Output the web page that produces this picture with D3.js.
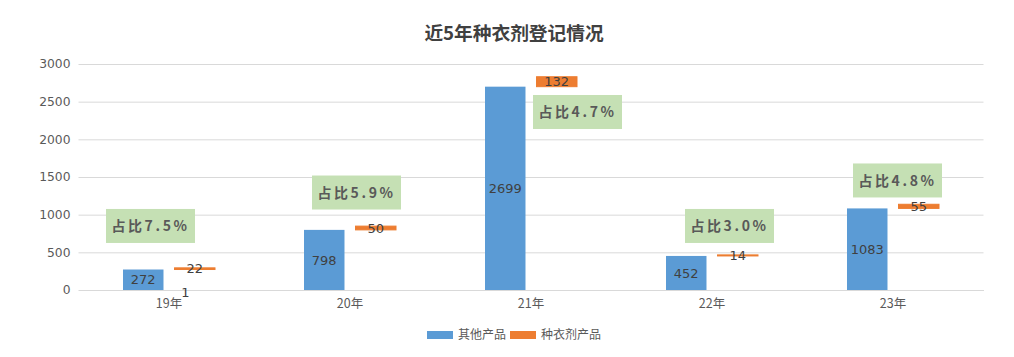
<!DOCTYPE html>
<html><head><meta charset="utf-8">
<script src="https://cdn.jsdelivr.net/npm/d3@7"></script>
<style>
html,body{margin:0;padding:0;background:#fff;}
svg{display:block;}
</style></head>
<body>
<svg id="chart" width="1014" height="357"></svg>
<script>
const categories = ['19年','20年','21年','22年','23年'];
const otherValues = [272, 798, 2699, 452, 1083];
const seedValues = [22, 50, 132, 14, 55];
const shareLabels = ['占比7.5%','占比5.9%','占比4.7%','占比3.0%','占比4.8%'];
const yTicks = [0, 500, 1000, 1500, 2000, 2500, 3000];
const seriesNames = ['其他产品', '种衣剂产品'];
const strayLabel = '1';
const title = '近5年种衣剂登记情况';

// layout for annotation boxes: [x offset px from category centre, value at box centre]
const noteAnchor = [[-18.5, 850], [6.5, 1294], [46.5, 2363], [17.5, 850], [4.5, 1454]];

const BLUE = '#5B9BD5', ORANGE = '#ED7D31', GREEN = '#C5E0B4';
const FONT = '"DejaVu Sans","Noto Sans CJK SC",sans-serif';
const CJK = '"Noto Sans CJK SC","DejaVu Sans",sans-serif';

const svg = d3.select('#chart');
const plotLeft = 78.5, plotRight = 983.5, plotTop = 64, plotBottom = 290;

const x = d3.scaleBand().domain(categories).range([plotLeft, plotRight]).paddingInner(0.4917).paddingOuter(0.24586);
const xs = d3.scaleBand().domain(seriesNames).range([0, x.bandwidth()]).paddingInner(0.214);
const y = d3.scaleLinear().domain([0, 3000]).range([plotBottom, plotTop]);

// title
svg.append('text').attr('x', 514).attr('y', 40).attr('text-anchor', 'middle')
  .attr('font-family', CJK).attr('font-weight', 'bold').attr('font-size', 18.7)
  .attr('fill', '#404040').text(title);

// grid
const yAxis = d3.axisLeft(y).tickValues(yTicks).tickFormat(d3.format('d'))
  .tickSize(-(plotRight - plotLeft)).tickPadding(8);
const ga = svg.append('g').attr('transform', `translate(${plotLeft},0)`).call(yAxis);
ga.select('.domain').remove();
ga.selectAll('.tick line').attr('stroke', '#D9D9D9').attr('stroke-width', 1);
ga.selectAll('.tick text').attr('font-family', FONT).attr('font-size', 12.3).attr('fill', '#595959').attr('x', -8);

// x axis
const xAxis = d3.axisBottom(x).tickSize(0).tickPadding(9);
const gx = svg.append('g').attr('transform', `translate(0,${plotBottom})`).call(xAxis);
gx.select('.domain').attr('stroke', '#D9D9D9');
gx.selectAll('.tick text').attr('font-family', CJK).attr('font-size', 12.5).attr('fill', '#595959');

const rows = categories.map((c, i) => ({c, i, other: otherValues[i], seed: seedValues[i]}));

// blue bars
svg.append('g').selectAll('rect').data(rows).join('rect')
  .attr('x', d => x(d.c) + xs(seriesNames[0]))
  .attr('width', xs.bandwidth())
  .attr('y', d => y(d.other))
  .attr('height', d => y(0) - y(d.other))
  .attr('fill', BLUE);

// orange floating bars
svg.append('g').selectAll('rect').data(rows).join('rect')
  .attr('x', d => x(d.c) + xs(seriesNames[1]))
  .attr('width', xs.bandwidth())
  .attr('y', d => y(d.other + d.seed))
  .attr('height', d => y(d.other) - y(d.other + d.seed))
  .attr('fill', ORANGE)
  .attr('stroke', ORANGE).attr('stroke-width', 1);

// data labels
svg.append('g').selectAll('text').data(rows).join('text')
  .attr('x', d => x(d.c) + xs(seriesNames[0]) + xs.bandwidth() / 2)
  .attr('y', d => (y(d.other) + y(0)) / 2)
  .attr('dy', '0.36em').attr('text-anchor', 'middle')
  .attr('font-family', FONT).attr('font-size', 13).attr('fill', '#404040')
  .text(d => d.other);

svg.append('g').selectAll('text').data(rows).join('text')
  .attr('x', d => x(d.c) + xs(seriesNames[1]) + xs.bandwidth() / 2)
  .attr('y', d => (y(d.other) + y(d.other + d.seed)) / 2)
  .attr('dy', '0.36em').attr('text-anchor', 'middle')
  .attr('font-family', FONT).attr('font-size', 13).attr('fill', '#404040')
  .text(d => d.seed);

// stray label
svg.append('text')
  .attr('x', x(categories[0]) + xs(seriesNames[1]) + 11)
  .attr('y', y(0) + 2).attr('dy', '0.36em').attr('text-anchor', 'middle')
  .attr('font-family', FONT).attr('font-size', 13).attr('fill', '#404040')
  .text(strayLabel);

// annotation boxes
const notes = svg.append('g').selectAll('g').data(rows).join('g')
  .attr('transform', d => `translate(${x(d.c) + x.bandwidth() / 2 + noteAnchor[d.i][0]},${y(noteAnchor[d.i][1])})`);
notes.append('rect').attr('x', -44.5).attr('y', -17).attr('width', 89).attr('height', 34).attr('fill', GREEN);
notes.append('text').attr('x', 0).attr('y', 0).attr('dy', '0.36em').attr('text-anchor', 'middle')
  .attr('font-family', CJK).attr('font-weight', 'bold').attr('font-size', 14)
  .attr('letter-spacing', 2.6).attr('fill', '#595959')
  .text(d => shareLabels[d.i]);

// legend
const legend = svg.append('g');
const legendX = [427, 510];
seriesNames.forEach((n, i) => {
  legend.append('rect').attr('x', legendX[i]).attr('y', 331).attr('width', 26).attr('height', 8)
    .attr('fill', i === 0 ? BLUE : ORANGE);
  legend.append('text').attr('x', legendX[i] + 31).attr('y', 335).attr('dy', '0.36em')
    .attr('font-family', CJK).attr('font-size', 12).attr('fill', '#595959').text(n);
});
</script>
</body></html>
